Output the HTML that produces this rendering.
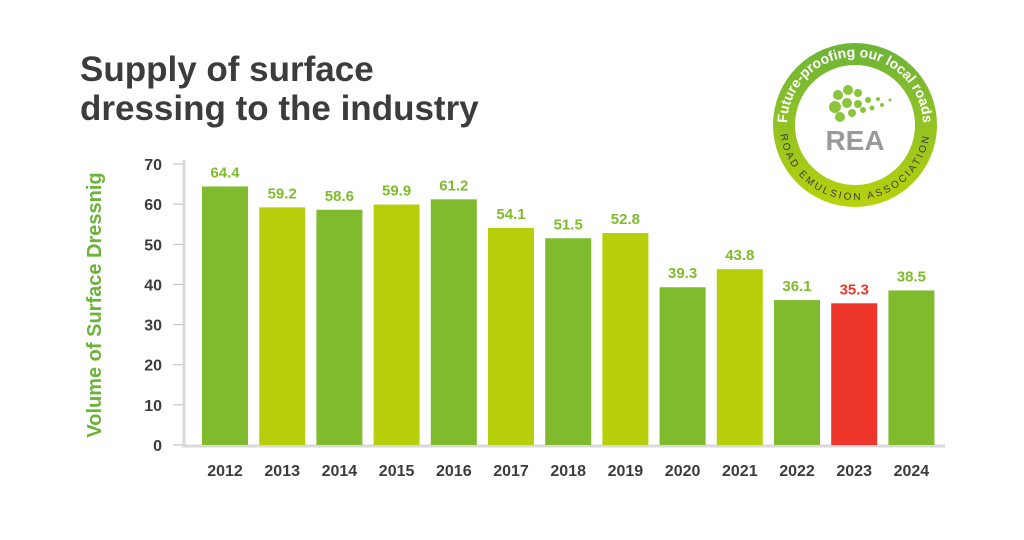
<!DOCTYPE html>
<html><head><meta charset="utf-8"><style>
body{margin:0;background:#fff;width:1024px;height:535px;overflow:hidden;font-family:"Liberation Sans",sans-serif}
</style></head><body>
<svg width="1024" height="535" viewBox="0 0 1024 535">
<defs>
<linearGradient id="rg" x1="0" y1="0" x2="0" y2="1"><stop offset="0" stop-color="#6cb33a"/><stop offset="1" stop-color="#b8d20c"/></linearGradient>
<path id="topArc" d="M787,125 A68,68 0 0 1 923,125"/>
<path id="botArc" d="M780,125 A75,75 0 0 0 930,125"/>
</defs>
<text x="80" y="81" font-size="35" font-weight="bold" fill="#3c3c3c">Supply of surface</text>
<text x="80" y="120" font-size="35" font-weight="bold" fill="#3c3c3c">dressing to the industry</text>
<text transform="translate(101,305) rotate(-90)" text-anchor="middle" font-size="20" font-weight="bold" fill="#6cb33a">Volume of Surface Dressnig</text>
<g>
<circle cx="855" cy="125" r="82" fill="url(#rg)"/>
<circle cx="855" cy="125" r="60" fill="#fff"/>
<text font-size="14" font-weight="bold" fill="#fff"><textPath href="#topArc" startOffset="50%" text-anchor="middle">Future-proofing our local roads</textPath></text>
<text font-size="10" fill="#3c3c3c" letter-spacing="2.5"><textPath href="#botArc" startOffset="50%" text-anchor="middle">ROAD EMULSION ASSOCIATION</textPath></text>
<g fill="#8cc43c"><circle cx="838" cy="95" r="5"/><circle cx="848" cy="90" r="5"/><circle cx="858" cy="93" r="4"/><circle cx="835" cy="107" r="6"/><circle cx="847" cy="103" r="5"/><circle cx="858" cy="104" r="4"/><circle cx="868" cy="100" r="3"/><circle cx="878" cy="99" r="2"/><circle cx="840" cy="117" r="5"/><circle cx="852" cy="113" r="4"/><circle cx="863" cy="110" r="3"/><circle cx="872" cy="108" r="2.5"/><circle cx="882" cy="105" r="2"/><circle cx="890" cy="100" r="1.5"/></g>
<text x="855" y="150" text-anchor="middle" font-size="28" font-weight="bold" fill="#9a9a9a">REA</text>
</g>
<g id="axes"></g>
<g id="bars"></g>
</svg>
<script>
const years=["2012","2013","2014","2015","2016","2017","2018","2019","2020","2021","2022","2023","2024"];
const values=[64.4,59.2,58.6,59.9,61.2,54.1,51.5,52.8,39.3,43.8,36.1,35.3,38.5];
const colorKind=["d","l","d","l","d","l","d","l","d","l","d","r","d"];
const yTicks=[0,10,20,30,40,50,60,70];
const NS="http://www.w3.org/2000/svg";
const y=v=>445-v*(281/70);
const x=i=>202+i*57.2;
const BW=46;
const fills={d:"#7fbb2c",l:"#b6cf0a",r:"#ee3529"};
const lab={d:"#7fbb2c",l:"#7fbb2c",r:"#ee3529"};
function mk(t,a,p){const e=document.createElementNS(NS,t);for(const k in a)e.setAttribute(k,a[k]);p.appendChild(e);return e;}
const ax=document.getElementById('axes');
const va=mk('line',{x1:184,y1:160,x2:184,y2:447,stroke:"#d9d9d9","stroke-width":3},ax);


const ha=mk('line',{x1:182,y1:446,x2:945,y2:446,stroke:"#d9d9d9","stroke-width":3},ax);


yTicks.forEach(t=>{
 const tk=mk('line',{x1:173,y1:y(t),x2:183,y2:y(t),stroke:"#bbb","stroke-width":1},ax);
 
 
 const tl=mk('text',{x:162,y:y(t)+6,"text-anchor":"end","font-size":16,"font-weight":"bold",fill:"#3c3c3c"},ax);
 tl.textContent=t;
 
 
});
const bg=document.getElementById('bars');
values.forEach((v,i)=>{
 const r=mk('rect',{x:x(i),y:y(v),width:BW,height:445-y(v),fill:fills[colorKind[i]]},bg);
 
 
 const t=mk('text',{x:x(i)+BW/2,y:y(v)-9,"text-anchor":"middle","font-size":15,"font-weight":"bold",fill:lab[colorKind[i]]},bg);
 t.textContent=v.toFixed(1);
 
 
 const yl=mk('text',{x:x(i)+BW/2,y:476,"text-anchor":"middle","font-size":16,"font-weight":"bold",fill:"#3c3c3c"},bg);
 yl.textContent=years[i];
 
 
});
</script>
</body></html>
